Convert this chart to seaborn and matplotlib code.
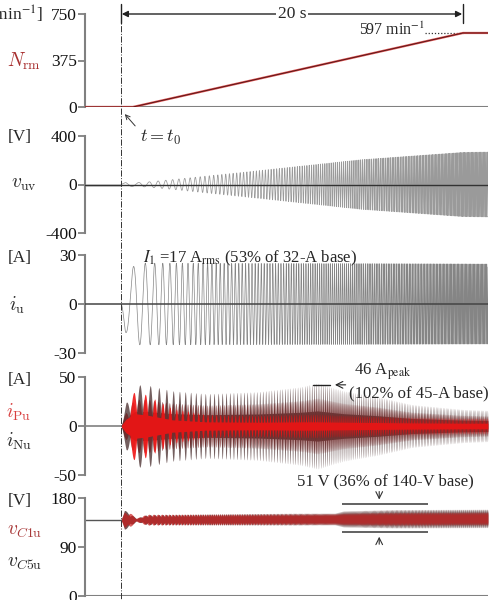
import numpy as np
import matplotlib
matplotlib.use("Agg")
import matplotlib.pyplot as plt
import seaborn as sns
from matplotlib import transforms
from matplotlib.lines import Line2D

sns.set_theme(style="white")
plt.rcParams['font.family'] = ['Liberation Serif', 'DejaVu Serif']
plt.rcParams['mathtext.fontset'] = 'stix'
plt.rcParams['axes.unicode_minus'] = False

# ---------------- data ----------------
t_min, t_max = -2.1, 21.46            # seconds, t0 = 0
speed_t = [-2.1, 0.7, 20.0, 21.46]
speed_rpm = [0, 0, 597, 597]

freq_t = [0.0, 20.0, 21.46]           # electrical frequency of the waveforms
freq_hz = [0.8, 12.8, 12.8]

vuv_t = [0, 0.3, 0.8, 1.5, 3, 7.5, 14, 20, 21.46]
vuv_amp = [0, 20, 15, 20, 40, 106, 204, 265, 268]

iu_t = [0, 0.25, 0.9, 21.46]
iu_amp = [0, 17, 25, 24.5]

arm_t = [0, 0.3, 0.8, 1.5, 3, 5, 8, 10.5, 11.5, 13, 15, 17, 20, 21.46]
iNu_amp = [0, 24, 42, 42, 36, 33, 35, 40, 44, 36, 30, 22, 17, 16]
iPu_amp = [0, 20, 36, 32, 18, 12, 11, 12, 12, 11, 10, 9, 8, 8]

vc_t = [0, 0.2, 0.5, 0.9, 1.5, 5, 10, 12.5, 13, 16, 20, 21.46]
vC5u_amp = [0, 18, 12, 3, 9, 10, 11, 11, 15, 17, 17, 17]
vC1u_amp = [0, 14, 14, 3, 10, 10, 10, 10, 11, 12, 12, 12]
vc_mean_t = [0, 21.46]
vc_mean = [140, 142.5]

# ---------------- derived waveforms ----------------
tt = np.linspace(0, t_max, 30000)
f = np.interp(tt, freq_t, freq_hz)
phi = 2 * np.pi * np.concatenate([[0], np.cumsum(0.5 * (f[1:] + f[:-1]) * np.diff(tt))])
s = np.sin(phi)

vuv = np.interp(tt, vuv_t, vuv_amp) * np.sin(phi + 0.6)
iu = -np.interp(tt, iu_t, iu_amp) * s
eN = np.interp(tt, arm_t, iNu_amp) * (0.35 + 0.65 * np.clip(s, 0, None))
eM = np.interp(tt, arm_t, iNu_amp) * (0.25 + 0.40 * np.abs(np.sin(phi + 0.5)))
eP = np.interp(tt, arm_t, iPu_amp) * (0.35 + 0.65 * np.clip(-s, 0, None))
vcm = np.interp(tt, vc_mean_t, vc_mean)
e5 = np.interp(tt, vc_t, vC5u_amp) * (0.55 + 0.45 * np.abs(s))
e1 = np.interp(tt, vc_t, vC1u_amp) * (0.55 + 0.45 * np.abs(np.sin(phi + 0.8)))

# ---------------- figure ----------------
W, H = 492, 600
fig = plt.figure(figsize=(W / 100, H / 100), dpi=100)

def px_rect(top, bottom, left=85, right=488):
    return [left / W, 1 - bottom / H, (right - left) / W, (bottom - top) / H]

ax1 = fig.add_axes(px_rect(14, 107))
ax2 = fig.add_axes(px_rect(136, 233))
ax3 = fig.add_axes(px_rect(255, 353))
ax4 = fig.add_axes(px_rect(377, 475))
ax5 = fig.add_axes(px_rect(498, 596))
axes = [ax1, ax2, ax3, ax4, ax5]
ylims = [(0, 750), (-400, 400), (-30, 30), (-50, 50), (0, 180)]
yticks = [[0, 375, 750], [-400, 0, 400], [-30, 0, 30], [-50, 0, 50], [0, 90, 180]]

for ax, yl, yt in zip(axes, ylims, yticks):
    ax.set_xlim(t_min, t_max)
    ax.set_ylim(*yl)
    ax.set_yticks(yt)
    ax.set_yticklabels([str(v) for v in yt])
    ax.set_xticks([])
    for sp in ['top', 'right', 'bottom']:
        ax.spines[sp].set_visible(False)
    ax.spines['left'].set_color('#808080')
    ax.spines['left'].set_linewidth(1.5)
    ax.tick_params(axis='y', left=True, length=5, width=1.3, color='#808080',
                   direction='out', labelsize=12.5, pad=1, labelcolor='#111')
    ax.patch.set_alpha(0)
    ax.set_xlabel('')
    ax.set_ylabel('')

# Panel 1: speed
ax1.axhline(0, color='#808080', lw=1.5, zorder=1)
sns.lineplot(x=speed_t, y=speed_rpm, ax=ax1, color='#d85050', lw=1.6, zorder=3)
sns.lineplot(x=speed_t, y=speed_rpm, ax=ax1, color='#4a1010', lw=0.6, zorder=4)
ax1.plot([17.8, 20.0], [597, 597], ls=(0, (1, 1.5)), color='#333', lw=0.9)
ax1.text(17.75, 615, r"597 min$^{-1}$", ha='right', va='center', fontsize=11.5)

# Panel 2: v_uv
sns.lineplot(x=[t_min, 0], y=[0, 0], ax=ax2, color='#444', lw=1.0)
sns.lineplot(x=tt, y=vuv, ax=ax2, color='#9a9a9a', lw=0.55, estimator=None, sort=False)
ax2.axhline(0, color='#333', lw=1.0, zorder=5)

# Panel 3: i_u
sns.lineplot(x=tt, y=iu, ax=ax3, color='#858585', lw=0.5, estimator=None, sort=False)
ax3.axhline(0, color='#444', lw=1.1, zorder=5)

# Panel 4: i_Pu / i_Nu
ax4.plot([t_min, 0], [0, 0], color='#808080', lw=1.2)
ax4.fill_between(tt, -eN, eN, color='#2a0a0a', alpha=0.65, lw=0)
ax4.fill_between(tt, -eM, eM, color='#6a1010', alpha=0.6, lw=0)
ax4.fill_between(tt, -eP, eP, color='#f01414', alpha=0.9, lw=0)

# Panel 5: v_C1u / v_C5u
ax5.axhline(0, color='#808080', lw=1.5, zorder=1)
ax5.plot([t_min, 0], [140, 140], color='#555', lw=1.0)
ax5.fill_between(tt, vcm - e5, vcm + e5, color='#3a0c0c', alpha=0.7, lw=0)
ax5.fill_between(tt, vcm - e1, vcm + e1, color='#c81c1c', alpha=0.7, lw=0)
ax5.hlines([169, 118], 12.9, 17.95, color='#555', lw=1.3)
ax5.annotate('', xy=(15.1, 172), xytext=(15.1, 197),
             arrowprops=dict(arrowstyle='->', color='#333', lw=0.8), annotation_clip=False)
ax5.annotate('', xy=(15.1, 114), xytext=(15.1, 90),
             arrowprops=dict(arrowstyle='->', color='#333', lw=0.8), annotation_clip=False)

# Panel 4 annotations
ax4.plot([11.2, 12.2], [42, 42], color='#222', lw=1.0)
ax4.annotate('', xy=(12.35, 42), xytext=(13.3, 42),
             arrowprops=dict(arrowstyle='->', color='#222', lw=0.8), annotation_clip=False)

# vertical t0 line and top 20 s arrow
blend = transforms.blended_transform_factory(ax1.transData, fig.transFigure)
fig.add_artist(Line2D([0, 0], [1 - 5 / H, 0], transform=blend, ls='-.', lw=0.7, color='#333'))
for xv in (0, 20):
    fig.add_artist(Line2D([xv, xv], [1 - 4 / H, 1 - 23 / H], transform=blend, lw=1.0, color='#222'))
ax1.annotate('', xy=(0.05, 1 - 14 / H), xycoords=blend, xytext=(19.95, 1 - 14 / H),
             textcoords=blend,
             arrowprops=dict(arrowstyle='<|-|>', color='#222', lw=1.0, mutation_scale=9,
                             shrinkA=0, shrinkB=0), annotation_clip=False)
ax1.text(10, 1 - 14 / H, '20 s', transform=blend, ha='center', va='center', fontsize=12.5,
         bbox=dict(facecolor='white', edgecolor='none', pad=1.5))

def ftxt(x, y, s, **kw):
    return fig.text(x / W, 1 - y / H, s, **kw)

# t = t0 annotation
fig.add_artist(matplotlib.patches.FancyArrowPatch((137 / W, 1 - 128 / H), (123 / W, 1 - 112 / H),
               transform=fig.transFigure, arrowstyle='->', mutation_scale=8, color='#333', lw=0.7))
ftxt(140, 137, r"$t = t_0$", ha='left', va='center', fontsize=13, math_fontfamily='cm')

# text annotations
ftxt(143, 258, r"$I_1$ =17 A$_{\rm rms}$ (53% of 32-A base)", ha='left', va='center', fontsize=12)
ftxt(383, 372, r"46 A$_{\rm peak}$", ha='center', va='center', fontsize=12)
ftxt(349, 393, "(102% of 45-A base)", ha='left', va='center', fontsize=12)
ftxt(385, 481, "51 V (36% of 140-V base)", ha='center', va='center', fontsize=12)

# left labels
ftxt(43, 14, r"[min$^{-1}$]", ha='right', va='center', fontsize=12.5)
ftxt(24, 61, r"$N_{\rm rm}$", ha='center', va='center', fontsize=14, color='#a83030', math_fontfamily='cm')
ftxt(20, 137, "[V]", ha='center', va='center', fontsize=12.5)
ftxt(24, 185, r"$v_{\rm uv}$", ha='center', va='center', fontsize=14, math_fontfamily='cm')
ftxt(20, 258, "[A]", ha='center', va='center', fontsize=12.5)
ftxt(17, 305, r"$i_{\rm u}$", ha='center', va='center', fontsize=14, math_fontfamily='cm')
ftxt(20, 380, "[A]", ha='center', va='center', fontsize=12.5)
ftxt(19, 412, r"$i_{\rm Pu}$", ha='center', va='center', fontsize=14, color='#d84040', math_fontfamily='cm')
ftxt(19, 441, r"$i_{\rm Nu}$", ha='center', va='center', fontsize=14, math_fontfamily='cm')
ftxt(20, 501, "[V]", ha='center', va='center', fontsize=12.5)
ftxt(25, 532, r"$v_{C1{\rm u}}$", ha='center', va='center', fontsize=14, color='#a83838', math_fontfamily='cm')
ftxt(25, 563, r"$v_{C5{\rm u}}$", ha='center', va='center', fontsize=14, math_fontfamily='cm')

fig.savefig('out.png', dpi=100)
